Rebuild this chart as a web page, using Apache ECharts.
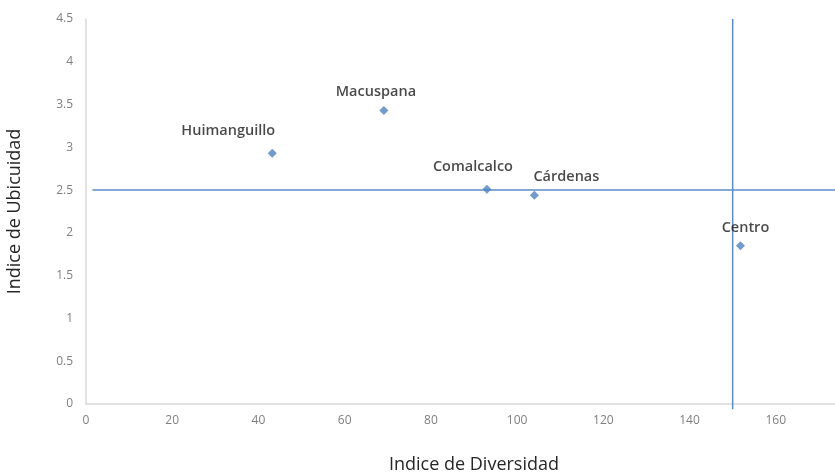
<!DOCTYPE html>
<html>
<head>
<meta charset="utf-8">
<script src="https://cdn.jsdelivr.net/npm/echarts@6/dist/echarts.min.js"></script>
<style>html,body{margin:0;padding:0;background:#fff}#c{width:835px;height:472px}</style>
</head>
<body>
<div id="c"></div>
<script>
const municipios = ['Huimanguillo', 'Macuspana', 'Comalcalco', 'Cárdenas', 'Centro'];
const diversidad = [43.2, 69.1, 93.0, 104.0, 151.8];
const ubicuidad = [2.93, 3.43, 2.51, 2.44, 1.85];
const xTicks = [0, 20, 40, 60, 80, 100, 120, 140, 160, 180];
const yTicks = [0, 0.5, 1, 1.5, 2, 2.5, 3, 3.5, 4, 4.5];
const refDiversidad = 150;
const refUbicuidad = 2.5;

const labelOffsets = {
  'Huimanguillo': [-44, -22],
  'Macuspana': [-8, -19],
  'Comalcalco': [-14, -22],
  'Cárdenas': [32, -18],
  'Centro': [5, -18]
};

const blue = '#4f81bd';
const chart = echarts.init(document.getElementById('c'));
const pts = municipios.map((n, i) => ({
  name: n,
  value: [diversidad[i], ubicuidad[i]],
  label: { offset: labelOffsets[n] }
}));

chart.setOption({
  animation: false,
  grid: { left: 86, top: 19, width: 776, height: 385, containLabel: false, outerBoundsMode: 'none' },
  xAxis: {
    type: 'value', min: xTicks[0], max: xTicks[xTicks.length - 1], interval: 20,
    name: 'Indice de Diversidad', nameLocation: 'middle', nameGap: 52,
    nameTextStyle: { fontFamily: 'Open Sans', fontSize: 18, color: '#262626' },
    axisLine: { show: true, lineStyle: { color: '#d9d9d9', width: 1.5 } },
    axisTick: { show: false },
    splitLine: { show: false },
    axisLabel: { fontFamily: 'Open Sans', fontSize: 12, color: '#7f7f7f', margin: 11 }
  },
  yAxis: {
    type: 'value', min: yTicks[0], max: yTicks[yTicks.length - 1], interval: 0.5,
    name: 'Indice de Ubicuidad', nameLocation: 'middle', nameGap: 62, nameRotate: 90,
    nameTextStyle: { fontFamily: 'Open Sans', fontSize: 18, color: '#262626' },
    axisLine: { show: true, lineStyle: { color: '#d9d9d9', width: 1.5 } },
    axisTick: { show: false },
    splitLine: { show: false },
    axisLabel: { fontFamily: 'Open Sans', fontSize: 12, color: '#7f7f7f', margin: 13 }
  },
  series: [
    {
      type: 'line', data: [[1.5, refUbicuidad], [xTicks[xTicks.length - 1], refUbicuidad]],
      symbol: 'none', lineStyle: { color: '#5b8cc8', width: 1.5 }, silent: true, z: 1
    },
    {
      type: 'line', data: [[refDiversidad, -0.06], [refDiversidad, yTicks[yTicks.length - 1]]],
      symbol: 'none', lineStyle: { color: '#5b8cc8', width: 1.5 }, silent: true, z: 1, clip: false
    },
    {
      type: 'scatter', data: pts, symbol: 'diamond', symbolSize: 9,
      itemStyle: { color: blue },
      label: {
        show: true, position: 'inside', formatter: p => p.name,
        fontFamily: 'Open Sans', fontSize: 14.5, fontWeight: 600, color: '#1a1a1a'
      },
      z: 3
    }
  ]
});
</script>
</body>
</html>
